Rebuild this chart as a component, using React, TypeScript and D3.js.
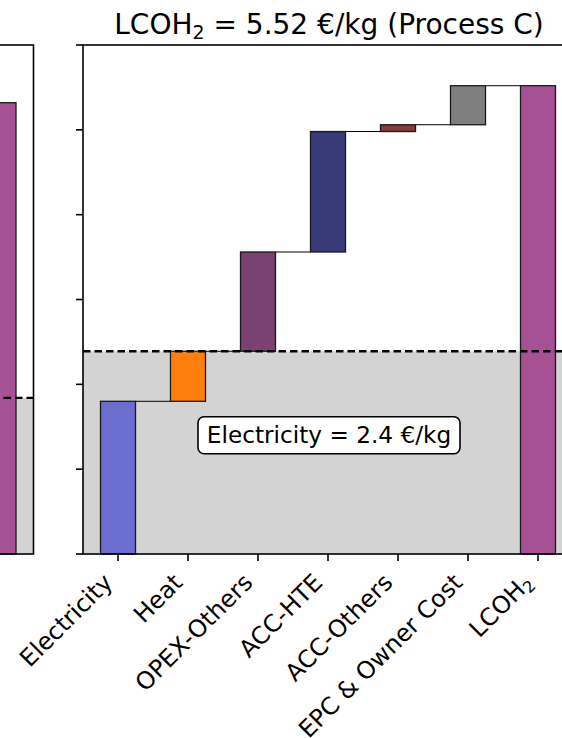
import React from "react";
import * as d3 from "d3";

// ---- data ----
const categories = ["Electricity", "Heat", "OPEX-Others", "ACC-HTE", "ACC-Others", "EPC & Owner Cost", "LCOH2"];
const contributionsC = [1.8, 0.59, 1.17, 1.42, 0.08, 0.46];
const totalC = 5.52;
const electricityBandC = 2.39;
const electricityLabelC = "Electricity = 2.4 €/kg";
const barColors = ["#6b6ecf", "#ff7f0e", "#7b4173", "#393b79", "#843c39", "#7f7f7f", "#a55194"];
const yTicks = [0, 1, 2, 3, 4, 5, 6];

// partially visible left panel (Process B)
const totalB = 5.32;
const electricityBandB = 1.84;
const titleB = "5.33";

const W = 562;
const H = 738;
const FONT = "DejaVu Sans, Verdana, sans-serif";

export default function App() {
  const top = 45;
  const bottom = 554;
  const y = d3.scaleLinear().domain([0, 6]).range([bottom, top]);
  const step = 70;
  const xC = d3.scaleLinear().domain([-0.5, 6.5]).range([83, 83 + 7 * step]);
  const xB = d3.scaleLinear().domain([-0.5, 6.5]).range([33.5 - 7 * step, 33.5]);
  const bw = step * 0.5;

  // waterfall bars
  const cum = d3.cumsum(contributionsC);
  const bars = contributionsC.map((v, i) => ({
    i,
    y0: i === 0 ? 0 : cum[i - 1],
    y1: cum[i],
  }));
  bars.push({ i: 6, y0: 0, y1: totalC });

  const stroke = "#1a1a1a";

  const renderLabel = (c: string) =>
    c === "LCOH2" ? (
      <>
        LCOH<tspan fontSize="16" dy="4">2</tspan>
      </>
    ) : (
      c
    );

  const titleFs = 28;

  return (
    <div style={{ position: "absolute", left: 0, top: 0 }}>
      <style>{"body{margin:0}"}</style>
      <svg width={W} height={H} style={{ display: "block", fontFamily: FONT }}>
        <rect width={W} height={H} fill="#fff" />

        {/* ---------- left panel (cropped) ---------- */}
        <rect
          x={xB(-0.5)}
          y={y(electricityBandB)}
          width={xB(6.5) - xB(-0.5)}
          height={y(0) - y(electricityBandB)}
          fill="#d3d3d3"
        />
        <rect
          x={xB(6) - bw / 2}
          y={y(totalB)}
          width={bw}
          height={y(0) - y(totalB)}
          fill={barColors[6]}
          stroke={stroke}
          strokeWidth={1.3}
        />
        <line
          x1={xB(-0.5)}
          x2={xB(6.5)}
          y1={y(electricityBandB)}
          y2={y(electricityBandB)}
          stroke="#000"
          strokeWidth={2.3}
          strokeDasharray="7.5,4"
        />
        <rect
          x={xB(-0.5)}
          y={top}
          width={xB(6.5) - xB(-0.5)}
          height={bottom - top}
          fill="none"
          stroke="#000"
          strokeWidth={1.6}
        />
        <line x1={xB(6)} x2={xB(6)} y1={bottom} y2={bottom + 7} stroke="#000" strokeWidth={1.6} />
        <text
          x={(xB(-0.5) + xB(6.5)) / 2 - 8}
          y={34}
          textAnchor="middle"
          fontSize={titleFs}
          fill="#000"
        >
          LCOH<tspan fontSize="19" dy="5">2</tspan>
          <tspan dy="-5">{` = ${titleB} €/kg (Process B)`}</tspan>
        </text>

        {/* ---------- right panel (Process C) ---------- */}
        <rect
          x={xC(-0.5)}
          y={y(electricityBandC)}
          width={xC(6.5) - xC(-0.5)}
          height={y(0) - y(electricityBandC)}
          fill="#d3d3d3"
        />

        {/* connectors */}
        {bars.slice(0, 6).map((b) => (
          <line
            key={"c" + b.i}
            x1={xC(b.i) + bw / 2}
            x2={xC(b.i + 1) - bw / 2}
            y1={y(b.y1)}
            y2={y(b.y1)}
            stroke="#000"
            strokeWidth={1}
          />
        ))}

        {bars.map((b) => (
          <rect
            key={"b" + b.i}
            x={xC(b.i) - bw / 2}
            y={y(b.y1)}
            width={bw}
            height={y(b.y0) - y(b.y1)}
            fill={barColors[b.i]}
            stroke={stroke}
            strokeWidth={1.3}
          />
        ))}

        <line
          x1={xC(-0.5)}
          x2={xC(6.5)}
          y1={y(electricityBandC)}
          y2={y(electricityBandC)}
          stroke="#000"
          strokeWidth={2.3}
          strokeDasharray="7.5,4"
        />

        {/* annotation */}
        <g transform={`translate(${xC(3) + 1},${y(1.4)})`}>
          <rect x={-131} y={-18.5} width={262} height={37} rx={6} ry={6} fill="#fff" stroke="#000" strokeWidth={1.6} />
          <text x={0} y={8} textAnchor="middle" fontSize={23.2} fill="#000">
            {electricityLabelC}
          </text>
        </g>

        {/* spines */}
        <rect
          x={xC(-0.5)}
          y={top}
          width={xC(6.5) - xC(-0.5)}
          height={bottom - top}
          fill="none"
          stroke="#000"
          strokeWidth={1.6}
        />

        {/* y ticks */}
        {yTicks.map((t) => (
          <line key={"yt" + t} x1={xC(-0.5) - 7} x2={xC(-0.5)} y1={y(t)} y2={y(t)} stroke="#000" strokeWidth={1.6} />
        ))}

        {/* x ticks + labels */}
        {categories.map((c, i) => (
          <g key={"xt" + i}>
            <line x1={xC(i)} x2={xC(i)} y1={bottom} y2={bottom + 7} stroke="#000" strokeWidth={1.6} />
            <text
              transform={`translate(${xC(i) - 4},${bottom + 30}) rotate(-45)`}
              textAnchor="end"
              fontSize={24}
              fill="#000"
            >
              {renderLabel(c)}
            </text>
          </g>
        ))}

        <text x={(xC(-0.5) + xC(6.5)) / 2 + 1} y={34} textAnchor="middle" fontSize={titleFs} fill="#000">
          LCOH<tspan fontSize="19" dy="5">2</tspan>
          <tspan dy="-5">{` = ${totalC.toFixed(2)} €/kg (Process C)`}</tspan>
        </text>
      </svg>
    </div>
  );
}
